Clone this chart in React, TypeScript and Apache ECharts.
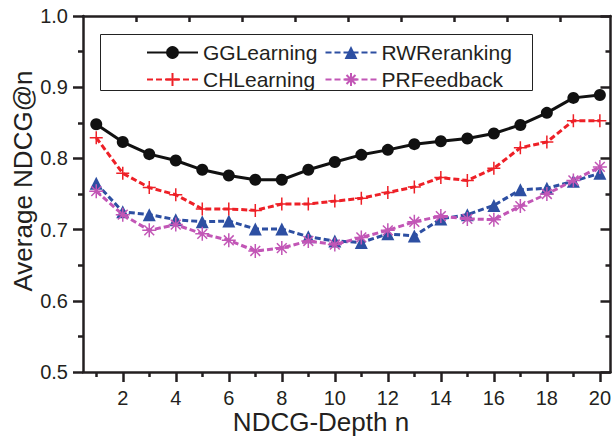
import React, { useEffect, useRef } from "react";
import * as echarts from "echarts";

const depths = [1, 2, 3, 4, 5, 6, 7, 8, 9, 10, 11, 12, 13, 14, 15, 16, 17, 18, 19, 20];
const ggLearning = [0.848, 0.823, 0.806, 0.797, 0.784, 0.776, 0.770, 0.770, 0.784, 0.795, 0.805, 0.812, 0.820, 0.824, 0.828, 0.835, 0.847, 0.864, 0.885, 0.889];
const chLearning = [0.829, 0.779, 0.759, 0.749, 0.729, 0.729, 0.727, 0.736, 0.736, 0.740, 0.744, 0.752, 0.760, 0.773, 0.769, 0.786, 0.815, 0.823, 0.853, 0.853];
const rwReranking = [0.765, 0.725, 0.721, 0.714, 0.711, 0.712, 0.701, 0.701, 0.690, 0.684, 0.682, 0.694, 0.691, 0.715, 0.721, 0.734, 0.756, 0.758, 0.768, 0.779];
const prFeedback = [0.754, 0.721, 0.699, 0.707, 0.694, 0.685, 0.670, 0.674, 0.684, 0.679, 0.689, 0.699, 0.711, 0.719, 0.715, 0.714, 0.733, 0.750, 0.769, 0.788];

const xMajorTicks = [2, 4, 6, 8, 10, 12, 14, 16, 18, 20];
const xMinorTicks = [1, 3, 5, 7, 9, 11, 13, 15, 17, 19];
const xTopTicks = [2.5, 4.5, 6.5, 8.5, 10.5, 12.5, 14.5, 16.5, 18.5];

const FONT = "'Liberation Sans', Arial, Helvetica, sans-serif";
const INK = "#231f20";

const pairs = (ys: number[]) => depths.map((d, i) => [d, ys[i]]);

const PLUS = "path://M0,6 L12,6 M6,0 L6,12";
const ASTER = "path://M0,6 L12,6 M6,0 L6,12 M1.8,1.8 L10.2,10.2 M1.8,10.2 L10.2,1.8";

export default function App() {
  const ref = useRef<HTMLDivElement>(null);
  useEffect(() => {
    if (!ref.current) return;
    const chart = echarts.init(ref.current, undefined, { renderer: "svg" });
    const axisLine = { show: true, lineStyle: { color: INK, width: 2.5 } };
    const red = "#ee2027";
    const blue = "#2d4fa2";
    const mag = "#c256b6";
    const black = "#111111";
    chart.setOption({
      animation: false,
      backgroundColor: "#ffffff",
      textStyle: { fontFamily: FONT },
      grid: { left: 83, right: 1.5, top: 16, bottom: 73, containLabel: false },
      xAxis: [
        {
          type: "value",
          min: 0.5,
          max: 20.4,
          position: "bottom",
          axisLine,
          splitLine: { show: false },
          axisTick: { show: true, customValues: xMajorTicks, length: 10, lineStyle: { color: INK, width: 2.5 } },
          axisLabel: { show: true, customValues: xMajorTicks, margin: 16, fontSize: 20, color: INK, fontFamily: FONT },
        },
        {
          type: "value",
          min: 0.5,
          max: 20.4,
          position: "bottom",
          axisLine: { show: false },
          splitLine: { show: false },
          axisTick: { show: true, customValues: xMinorTicks, length: 5, lineStyle: { color: INK, width: 2.5 } },
          axisLabel: { show: false },
        },
        {
          type: "value",
          min: 0.5,
          max: 20.4,
          position: "top",
          axisLine,
          splitLine: { show: false },
          axisTick: { show: true, inside: true, customValues: xTopTicks, length: 6, lineStyle: { color: INK, width: 2.5 } },
          axisLabel: { show: false },
        },
      ],
      yAxis: [
        {
          type: "value",
          min: 0.5,
          max: 1.0,
          interval: 0.1,
          position: "left",
          axisLine,
          splitLine: { show: false },
          axisTick: { show: true, length: 10, lineStyle: { color: INK, width: 2.5 } },
          minorTick: { show: true, splitNumber: 2, length: 5, lineStyle: { color: INK, width: 2.5 } },
          axisLabel: { margin: 15, fontSize: 20, color: INK, fontFamily: FONT, formatter: (v: number) => v.toFixed(1) },
        },
        {
          type: "value",
          min: 0.5,
          max: 1.0,
          interval: 0.1,
          position: "right",
          axisLine,
          splitLine: { show: false },
          axisTick: { show: true, inside: true, length: 10, lineStyle: { color: INK, width: 2.5 } },
          minorTick: { show: true, splitNumber: 2, length: 5, lineStyle: { color: INK, width: 2.5 } },
          axisLabel: { show: false },
        },
      ],
      legend: [
        {
          data: ["GGLearning", "CHLearning"],
          orient: "vertical",
          left: 146,
          top: 42,
          padding: 0,
          itemGap: 6,
          itemWidth: 51,
          itemHeight: 16,
          textStyle: { fontSize: 21, color: INK, fontFamily: FONT, lineHeight: 21 },
        },
        {
          data: ["RWReranking", "PRFeedback"],
          orient: "vertical",
          left: 324.5,
          top: 42,
          padding: 0,
          itemGap: 6,
          itemWidth: 51,
          itemHeight: 16,
          textStyle: { fontSize: 21, color: INK, fontFamily: FONT, lineHeight: 21 },
        },
      ],
      graphic: [
        {
          type: "rect",
          shape: { x: 100.5, y: 34.5, width: 432, height: 56 },
          style: { fill: "none", stroke: "#222", lineWidth: 1 },
          silent: true,
        },
        {
          type: "text",
          x: 321,
          y: 422,
          style: { text: "NDCG-Depth n", fontSize: 26, fontFamily: FONT, fill: INK, align: "center", verticalAlign: "middle" },
        },
        {
          type: "text",
          x: 22.7,
          y: 181,
          rotation: Math.PI / 2,
          style: { text: "Average NDCG@n", fontSize: 26, fontFamily: FONT, fill: INK, align: "center", verticalAlign: "middle" },
        },
      ],
      series: [
        {
          name: "GGLearning",
          type: "line",
          data: pairs(ggLearning),
          symbol: "circle",
          symbolSize: 12,
          itemStyle: { color: black },
          lineStyle: { color: black, width: 3 },
          z: 5,
        },
        {
          name: "RWReranking",
          type: "line",
          data: pairs(rwReranking),
          symbol: "triangle",
          symbolSize: 13,
          itemStyle: { color: blue },
          lineStyle: { color: blue, width: 3, type: [6, 3] },
          z: 3,
        },
        {
          name: "CHLearning",
          type: "line",
          data: pairs(chLearning),
          symbol: PLUS,
          symbolSize: 13,
          itemStyle: { color: red, borderColor: red, borderWidth: 1.5 },
          lineStyle: { color: red, width: 3, type: [6, 3] },
          z: 4,
        },
        {
          name: "PRFeedback",
          type: "line",
          data: pairs(prFeedback),
          symbol: ASTER,
          symbolSize: 14,
          itemStyle: { color: mag, borderColor: mag, borderWidth: 1.5 },
          lineStyle: { color: mag, width: 3, type: [6, 3] },
          z: 4,
        },
      ],
    });
    return () => chart.dispose();
  }, []);
  return <div ref={ref} style={{ width: 614, height: 445, position: "absolute", left: 0, top: 0 }} />;
}
